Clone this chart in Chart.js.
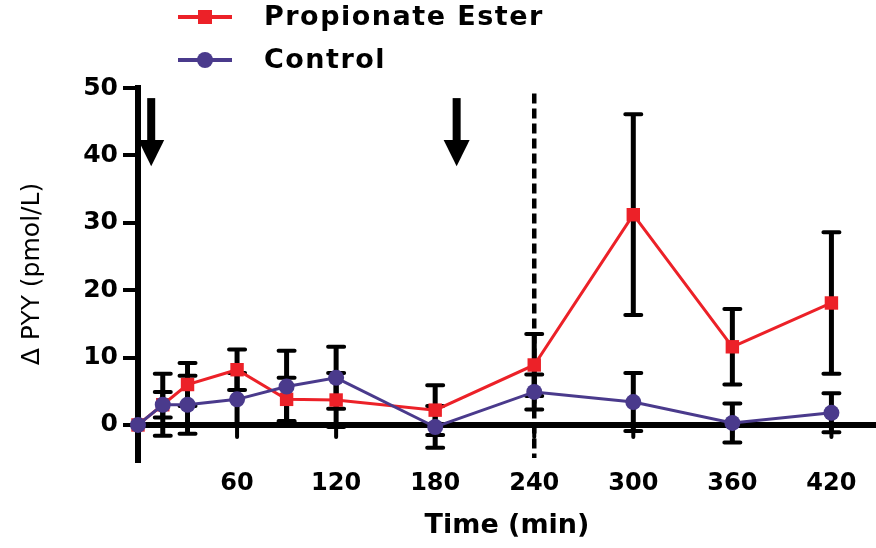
<!DOCTYPE html>
<html>
<head>
<meta charset="utf-8">
<script src="https://cdn.jsdelivr.net/npm/chart.js@4.4.0/dist/chart.umd.min.js"></script>
<style>
  html, body { margin: 0; padding: 0; background: #fff; }
</style>
</head>
<body>
<canvas id="pyyChart" width="876" height="548"></canvas>
<script>
const times = [0, 15, 30, 60, 90, 120, 180, 240, 300, 360, 420];
const esterMean = [0, 3.0, 6.0, 8.2, 3.8, 3.7, 2.2, 8.9, 31.2, 11.6, 18.1];
const esterSem = [0, 4.6, 3.2, 3.0, 3.2, 4.0, 3.7, 4.6, 14.9, 5.6, 10.5];
const controlMean = [0, 3.0, 3.0, 3.8, 5.7, 7.0, -0.3, 4.9, 3.4, 0.3, 1.8];
const controlSem = [0, 1.9, 4.3, 3.9, 5.3, 4.6, 3.1, 2.6, 4.3, 2.9, 2.9];
const xTicks = [60, 120, 180, 240, 300, 360, 420];
const yTicks = [0, 10, 20, 30, 40, 50];
const arrowTimes = [8, 193];
const dashedTime = 240;

const RED = "#ec2128";
const PURPLE = "#4a3a8c";

function toPoints(means) {
    return times.map((t, i) => ({ x: t, y: means[i] }));
}

// error bars, dashed marker line and x-axis ticks (drawn under the lines)
const underlay = {
    id: "underlay",
    beforeDatasetsDraw(chart) {
        const ctx = chart.ctx;
        const xs = chart.scales.x;
        const ys = chart.scales.y;
        ctx.save();
        ctx.strokeStyle = "#000";

        // dashed line
        ctx.lineWidth = 4.5;
        ctx.setLineDash([10, 5]);
        const dx = xs.getPixelForValue(dashedTime);
        ctx.beginPath();
        ctx.moveTo(dx, ys.getPixelForValue(49.2));
        ctx.lineTo(dx, ys.getPixelForValue(-4.9));
        ctx.stroke();
        ctx.setLineDash([]);

        // ticks on the zero line
        ctx.lineWidth = 4;
        ctx.lineCap = "round";
        const y0 = ys.getPixelForValue(0);
        xTicks.forEach(t => {
            const x = xs.getPixelForValue(t);
            ctx.beginPath();
            ctx.moveTo(x, y0);
            ctx.lineTo(x, y0 + 12);
            ctx.stroke();
        });

        chart.data.datasets.forEach(ds => {
            ds.data.forEach((p, i) => {
                const sem = ds.sem[i];
                if (!sem) return;
                const x = xs.getPixelForValue(p.x);
                const yt = ys.getPixelForValue(p.y + sem);
                const yb = ys.getPixelForValue(p.y - sem);
                ctx.lineWidth = 5;
                ctx.lineCap = "butt";
                ctx.beginPath();
                ctx.moveTo(x, yt);
                ctx.lineTo(x, yb);
                ctx.stroke();
                ctx.lineWidth = 4;
                ctx.lineCap = "round";
                ctx.beginPath();
                ctx.moveTo(x - 8, yt);
                ctx.lineTo(x + 8, yt);
                ctx.moveTo(x - 8, yb);
                ctx.lineTo(x + 8, yb);
                ctx.stroke();
            });
        });
        ctx.restore();
    }
};

// arrows and legend on top
const overlay = {
    id: "overlay",
    afterDraw(chart) {
        const ctx = chart.ctx;
        const xs = chart.scales.x;
        const ys = chart.scales.y;
        ctx.save();
        ctx.fillStyle = "#000";
        arrowTimes.forEach(t => {
            const x = xs.getPixelForValue(t);
            const top = ys.getPixelForValue(48.5);
            const neck = ys.getPixelForValue(42.3);
            const tip = ys.getPixelForValue(38.4);
            ctx.fillRect(x - 4, top, 8, neck - top + 1);
            ctx.beginPath();
            ctx.moveTo(x - 13, neck);
            ctx.lineTo(x + 13, neck);
            ctx.lineTo(x, tip);
            ctx.closePath();
            ctx.fill();
        });

        // legend
        const rows = [17, 60];
        ctx.font = "bold 27px 'DejaVu Sans'";
        ctx.textBaseline = "middle";
        ctx.letterSpacing = "1.5px";
        chart.data.datasets.forEach((ds, i) => {
            const y = rows[i];
            ctx.strokeStyle = ds.borderColor;
            ctx.lineWidth = 4;
            ctx.beginPath();
            ctx.moveTo(178, y);
            ctx.lineTo(232, y);
            ctx.stroke();
            ctx.fillStyle = ds.borderColor;
            if (ds.pointStyle === "rect") {
                ctx.fillRect(198, y - 7, 14, 14);
            } else {
                ctx.beginPath();
                ctx.arc(205, y, 8, 0, Math.PI * 2);
                ctx.fill();
            }
            ctx.fillStyle = "#000";
            ctx.fillText(ds.label, 264, y + 1);
        });
        ctx.restore();
    }
};

const ctx = document.getElementById("pyyChart").getContext("2d");

new Chart(ctx, {
    type: "line",
    data: {
        datasets: [{
            label: "Propionate Ester",
            data: toPoints(esterMean),
            sem: esterSem,
            borderColor: RED,
            backgroundColor: RED,
            pointStyle: "rect",
            pointRadius: 9.5,
            pointBorderWidth: 0,
            borderWidth: 3,
            clip: false,
            order: 1
        }, {
            label: "Control",
            data: toPoints(controlMean),
            sem: controlSem,
            borderColor: PURPLE,
            backgroundColor: PURPLE,
            pointStyle: "circle",
            pointRadius: 8,
            pointBorderWidth: 0,
            borderWidth: 3,
            clip: false,
            order: 0
        }]
    },
    options: {
        responsive: false,
        animation: false,
        layout: { autoPadding: false, padding: { top: 88, right: 0, left: 0, bottom: 0 } },
        plugins: {
            legend: { display: false },
            tooltip: { enabled: false }
        },
        scales: {
            x: {
                type: "linear",
                min: 0,
                max: 447,
                afterBuildTicks: s => { s.ticks = xTicks.map(v => ({ value: v })); },
                afterFit: s => { s.height = 88; },
                border: { display: false },
                grid: { display: false },
                ticks: {
                    color: "#000",
                    padding: 1,
                    font: { family: "'DejaVu Sans'", size: 24, weight: "bold" }
                },
                title: {
                    display: true,
                    text: "Time (min)",
                    color: "#000",
                    padding: { top: 0, bottom: 6 },
                    font: { family: "'DejaVu Sans'", size: 27, weight: "bold" }
                }
            },
            y: {
                min: -5.2,
                max: 50,
                afterBuildTicks: s => { s.ticks = yTicks.map(v => ({ value: v })); },
                afterFit: s => { s.width = 138; },
                border: { display: true, color: "#000", width: 6 },
                grid: {
                    color: c => (c.tick && c.tick.value === 0 ? "#000" : "rgba(0,0,0,0)"),
                    lineWidth: 6,
                    tickColor: "#000",
                    tickWidth: 4,
                    tickLength: 15
                },
                ticks: {
                    color: "#000",
                    padding: 5,
                    font: { family: "'DejaVu Sans'", size: 25, weight: "bold" }
                },
                title: {
                    display: true,
                    text: "Δ PYY (pmol/L)",
                    color: "#000",
                    padding: { top: 17, bottom: 0 },
                    font: { family: "'DejaVu Sans'", size: 25 }
                }
            }
        }
    },
    plugins: [underlay, overlay]
});
</script>
</body>
</html>
